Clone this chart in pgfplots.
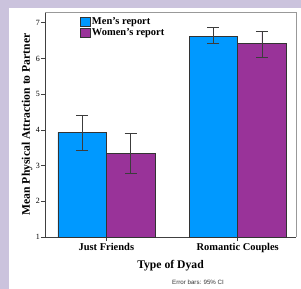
\documentclass[border=0pt]{standalone}
\usepackage{pgfplots}
\pgfplotsset{compat=1.18}
\usepackage{pgfplotstable}
\usepackage{fontspec}
\setmainfont{Liberation Serif}
\newfontfamily\notefont{Liberation Sans}
\definecolor{lav}{RGB}{203,195,221}
\definecolor{menc}{RGB}{0,153,255}
\definecolor{womc}{RGB}{153,51,153}
\definecolor{errc}{RGB}{60,60,60}
\pgfplotstableread{
x y ep em
-0.1845 3.93 0.47 0.50
0.8155 6.62 0.24 0.21
}\men
\pgfplotstableread{
x y ep em
0.1845 3.35 0.56 0.56
1.1845 6.42 0.34 0.38
}\women
\begin{document}
\begin{tikzpicture}[x=1bp,y=1bp]
\fill[lav] (0,0) rectangle (301,289);
\fill[white] (9,0) rectangle (301,281);
\path[use as bounding box] (0,0) rectangle (301,289);
\begin{axis}[
  at={(45bp,52bp)}, anchor=south west,
  scale only axis, width=251bp, height=225bp,
  xmin=-0.467, xmax=1.444, ymin=1, ymax=7.3,
  axis x line*=bottom, axis y line*=left,
  axis line style={draw=black!75, line width=0.6bp},
  ytick={1,2,3,4,5,6,7},
  xtick={0,1}, xticklabels={Just Friends, Romantic Couples},
  tick align=outside, major tick length=4bp,
  tick style={draw=black!75, line width=0.6bp},
  yticklabel style={font=\fontsize{8}{9}\selectfont, inner sep=1bp},
  xticklabel style={font=\fontsize{10.5}{12}\selectfont\bfseries, inner sep=2bp},
  /pgf/number format/assume math mode=true,
  xlabel={Type of Dyad},
  ylabel={Mean Physical Attraction to Partner},
  xlabel style={font=\fontsize{11.7}{13}\selectfont\bfseries, at={(axis description cs:0.5,-0.1276)}, anchor=center},
  ylabel style={font=\fontsize{11.7}{13}\selectfont\bfseries, at={(axis description cs:-0.0717,0.5)}, anchor=center, rotate=0},
  clip=false,
  legend style={at={(axis description cs:0.137,0.982)}, anchor=north west, draw=none, fill=none,
    font=\fontsize{10.5}{11}\selectfont\bfseries, inner sep=0pt, row sep=0.5bp,
    nodes={inner sep=1.2bp}},
  legend cell align=left,
  legend image code/.code={\draw[#1, draw=black!80, line width=0.5bp] (0bp,-4.3bp) rectangle (10.7bp,4.3bp);},
]
\addplot[ybar, bar width=0.369, bar shift=0, fill=menc, draw=black!80, line width=0.5bp,
  error bars/.cd, y dir=both, y explicit,
  error bar style={draw=errc, line width=0.6bp},
  error mark options={rotate=90, draw=errc, mark size=6bp, line width=0.6bp}]
  table[x=x, y=y, y error plus=ep, y error minus=em] {\men};
\addlegendentry{Men's report}
\addplot[ybar, bar width=0.369, bar shift=0, fill=womc, draw=black!80, line width=0.5bp,
  error bars/.cd, y dir=both, y explicit,
  error bar style={draw=errc, line width=0.6bp},
  error mark options={rotate=90, draw=errc, mark size=6bp, line width=0.6bp}]
  table[x=x, y=y, y error plus=ep, y error minus=em] {\women};
\addlegendentry{Women's report}
\draw[black!40, line width=0.6bp] (rel axis cs:0,1) -- (rel axis cs:1,1) -- (rel axis cs:1,0);
\end{axis}
\node[font=\notefont\fontsize{6.2}{7}\selectfont, text=black!80] at (198bp,7bp) {Error bars: 95\% CI};
\end{tikzpicture}
\end{document}
